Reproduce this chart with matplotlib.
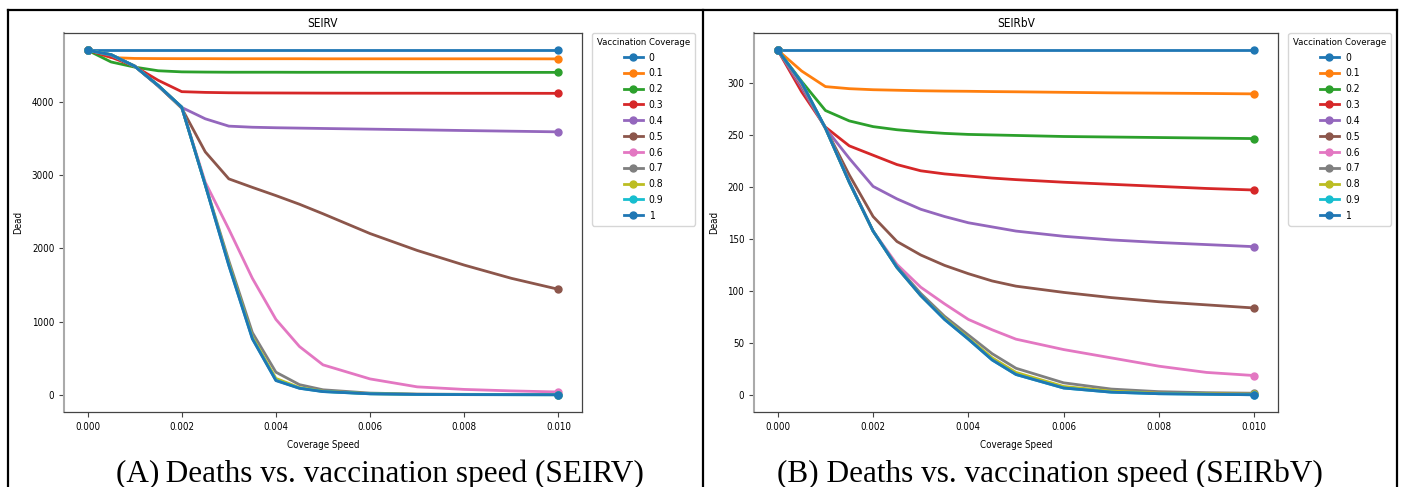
import matplotlib
matplotlib.use("Agg")
import matplotlib.pyplot as plt
from matplotlib.lines import Line2D

plt.rcParams['font.family'] = ['DejaVu Sans']
plt.rcParams['font.stretch'] = 'condensed'

# vaccination speed grid shared by both models
speed = [0, 0.0005, 0.001, 0.0015, 0.002, 0.0025, 0.003, 0.0035, 0.004,
         0.0045, 0.005, 0.006, 0.007, 0.008, 0.009, 0.01]
coverage = ['0', '0.1', '0.2', '0.3', '0.4', '0.5', '0.6', '0.7', '0.8', '0.9', '1']

# deaths, SEIRV model
seirv_0 = [4700] * 16
seirv_01 = [4700, 4600, 4588, 4586, 4585, 4585, 4584, 4584, 4584, 4584, 4583, 4583, 4583, 4583, 4583, 4582]
seirv_02 = [4700, 4540, 4470, 4420, 4405, 4402, 4400, 4400, 4400, 4399, 4399, 4399, 4398, 4398, 4398, 4398]
seirv_03 = [4700, 4605, 4480, 4290, 4135, 4125, 4120, 4118, 4117, 4116, 4115, 4114, 4114, 4113, 4113, 4112]
seirv_04 = [4700, 4630, 4485, 4210, 3920, 3765, 3665, 3650, 3643, 3638, 3633, 3624, 3615, 3605, 3596, 3587]
seirv_05 = [4700, 4635, 4485, 4215, 3910, 3314, 2946, 2830, 2718, 2600, 2470, 2200, 1970, 1770, 1590, 1440]
seirv_06 = [4700, 4638, 4483, 4218, 3922, 2900, 2260, 1590, 1030, 660, 410, 218, 110, 75, 55, 40]
seirv_07 = [4700, 4638, 4483, 4220, 3923, 2870, 1830, 850, 310, 140, 70, 25, 12, 8, 6, 5]
seirv_08 = [4700, 4640, 4483, 4220, 3924, 2865, 1790, 790, 225, 100, 50, 17, 8, 5, 4, 3]
seirv_09 = [4700, 4640, 4482, 4220, 3924, 2862, 1770, 770, 200, 92, 46, 15, 7, 4, 3, 2]
seirv_1 = [4700, 4640, 4482, 4220, 3924, 2860, 1764, 764, 195, 90, 45, 15, 7, 4, 3, 2]

# deaths, SEIRbV model
seirbv_0 = [332] * 16
seirbv_01 = [332, 312, 297, 295, 294, 293.5, 293, 292.7, 292.5, 292.2, 292, 291.5, 291, 290.7, 290.4, 290]
seirbv_02 = [332, 302, 274, 264, 258.5, 255.5, 253.5, 252, 251, 250.5, 250, 249, 248.5, 248, 247.5, 247]
seirbv_03 = [332, 292, 258, 240, 231, 222, 216, 213, 211, 209, 207.5, 205, 203, 201, 199, 197.5]
seirbv_04 = [332, 296, 257, 228, 201, 189, 179, 172, 166, 162, 158, 153, 149.5, 147, 145, 143]
seirbv_05 = [332, 298, 257, 212, 172, 148, 135, 125, 117, 110, 105, 99, 94, 90, 87, 84]
seirbv_06 = [332, 299, 257, 206, 158, 126, 104, 88, 73, 63, 54, 44, 36, 28, 22, 19]
seirbv_07 = [332, 300, 257, 205, 158, 124, 98, 76, 58, 40, 26, 12, 6, 3.5, 2.5, 2]
seirbv_08 = [332, 301, 257, 205, 158, 123, 96, 74, 55, 36, 22, 8.5, 4, 2, 1.5, 1]
seirbv_09 = [332, 301, 257, 205, 158, 123, 96, 73, 54, 34, 20, 7, 3, 1.5, 1, 0.5]
seirbv_1 = [332, 301, 257, 205, 158, 123, 96, 73, 54, 34, 20, 7, 3, 1.5, 1, 0.5]

seirv = [seirv_0, seirv_01, seirv_02, seirv_03, seirv_04, seirv_05,
         seirv_06, seirv_07, seirv_08, seirv_09, seirv_1]
seirbv = [seirbv_0, seirbv_01, seirbv_02, seirbv_03, seirbv_04, seirbv_05,
          seirbv_06, seirbv_07, seirbv_08, seirbv_09, seirbv_1]

W, H = 1401, 487
fig = plt.figure(figsize=(W / 100, H / 100), dpi=100)


def box(l, r, t, b):
    # pixel box -> figure fractions
    return [l / W, 1 - b / H, (r - l) / W, (b - t) / H]


def panel(rect, curves, title):
    ax = fig.add_axes(rect)
    for ys, lab in zip(curves, coverage):
        ax.plot(speed, ys, marker='o', markevery=[0, len(speed) - 1],
                lw=2, ms=5, label=lab)
    ax.set_title(title, fontsize=8.5, pad=4)
    ax.set_xlabel("Coverage Speed", fontsize=7, labelpad=6)
    ax.set_ylabel("Dead", fontsize=7, labelpad=6)
    ax.set_xticks([0, 0.002, 0.004, 0.006, 0.008, 0.010])
    ax.set_xticklabels(['0.000', '0.002', '0.004', '0.006', '0.008', '0.010'])
    ax.tick_params(labelsize=7, width=0.8, length=3.5, color='#444444')
    for s in ax.spines.values():
        s.set_color('#444444')
        s.set_linewidth(0.9)
    ax.spines['left'].set_color('#aaaaaa')
    ax.spines['left'].set_linewidth(1.5)
    ax.legend(title="Vaccination Coverage", fontsize=7.5, title_fontsize=6.8,
              loc='upper left', bbox_to_anchor=(1.02, 1.0), borderaxespad=0,
              handlelength=1.8, handletextpad=0.6, labelspacing=0.56,
              borderpad=0.45)
    return ax


axA = panel(box(64, 582, 33, 412), seirv, "SEIRV")
axB = panel(box(754, 1278, 33, 412), seirbv, "SEIRbV")

# captions under each panel
fig.text(380 / W, 1 - 482 / H, "(A)\u2009Deaths vs. vaccination speed (SEIRV)",
         family='Liberation Serif', fontsize=22.5, ha='center', va='baseline')
fig.text(1050 / W, 1 - 482 / H, "(B) Deaths vs. vaccination speed (SEIRbV)",
         family='Liberation Serif', fontsize=22.5, ha='center', va='baseline')

# table frame around the two panels
for xs_, ys_ in [([8, 1397], [10, 10]), ([8, 8], [10, 487]),
                 ([703, 703], [10, 487]), ([1397, 1397], [10, 487])]:
    fig.add_artist(Line2D([x / W for x in xs_], [1 - y / H for y in ys_],
                          transform=fig.transFigure, color='black', lw=1.6))

fig.savefig("out.png", dpi=100)
